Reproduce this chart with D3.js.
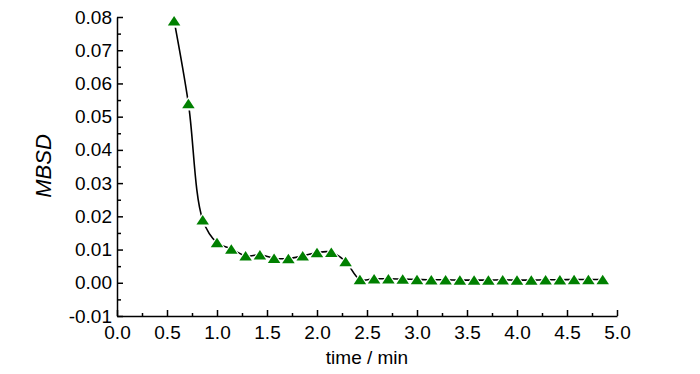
<!DOCTYPE html>
<html><head><meta charset="utf-8">
<script src="https://cdn.jsdelivr.net/npm/d3@7"></script>
<style>body{margin:0;background:#fff}svg{display:block}text{font-family:"Liberation Sans",Arial,sans-serif}</style>
</head><body>
<svg id="c" width="700" height="374"></svg>
<script>
const times = [0.571,0.714,0.857,1.0,1.143,1.286,1.429,1.571,1.714,1.857,2.0,2.143,2.286,2.429,2.571,2.714,2.857,3.0,3.143,3.286,3.429,3.571,3.714,3.857,4.0,4.143,4.286,4.429,4.571,4.714,4.857];
const mbsd = [0.0789,0.054,0.019,0.0121,0.0102,0.0081,0.0084,0.0074,0.0073,0.0081,0.0091,0.0092,0.0064,0.0010,0.0012,0.0012,0.0011,0.0010,0.0009,0.0009,0.0008,0.0008,0.0008,0.0009,0.0008,0.0008,0.0009,0.0009,0.0010,0.0010,0.0010];
const xTicks = [0,0.5,1,1.5,2,2.5,3,3.5,4,4.5,5];
const yTicks = [-0.01,0,0.01,0.02,0.03,0.04,0.05,0.06,0.07,0.08];

const svg = d3.select("#c");
const x = d3.scaleLinear().domain([0,5]).range([117,617]);
const y = d3.scaleLinear().domain([-0.01,0.08]).range([316,17]);
const pts = times.map((t,i)=>[t,mbsd[i]]);

// line
const line = d3.line().x(d=>x(d[0])).y(d=>y(d[1])).curve(d3.curveCatmullRom.alpha(0.5));
svg.append("path").attr("d",line(pts)).attr("fill","none").attr("stroke","#000").attr("stroke-width",1.6);

// triangle path (flattened), centered on the point
const triPath = (w,h)=>`M0,${-h/2}L${w/2},${h/2}L${-w/2},${h/2}Z`;
svg.append("g").selectAll("path").data(pts).join("path")
  .attr("d",triPath(18,14)).attr("transform",d=>`translate(${x(d[0])},${y(d[1])})`).attr("fill","#fff");
svg.append("g").selectAll("path").data(pts).join("path")
  .attr("d",triPath(12.5,9.5)).attr("transform",d=>`translate(${x(d[0])},${y(d[1])})`).attr("fill","#008000");

// axes
const ax = svg.append("g").attr("transform","translate(0,316)")
  .call(d3.axisBottom(x).tickValues(xTicks).tickFormat(d3.format(".1f")).tickSizeInner(-6).tickSizeOuter(0).tickPadding(10));
ax.append("g").call(d3.axisBottom(x).tickValues(d3.range(0.25,5,0.5)).tickFormat("").tickSizeInner(-3).tickSizeOuter(0)).select(".domain").remove();
const ay = svg.append("g").attr("transform","translate(117,0)")
  .call(d3.axisLeft(y).tickValues(yTicks).tickFormat(d=>d3.format(".2f")(d).replace("\u2212","-")).tickSizeInner(-6).tickSizeOuter(0).tickPadding(5));
ay.append("g").call(d3.axisLeft(y).tickValues(d3.range(-0.005,0.08,0.01)).tickFormat("").tickSizeInner(-4).tickSizeOuter(0)).select(".domain").remove();
svg.selectAll(".domain,.tick line").attr("stroke","#000").attr("stroke-width",1.5);
svg.selectAll(".tick text").attr("font-size",19).attr("fill","#000").attr("font-family","Liberation Sans, Arial, sans-serif");

svg.append("text").attr("x",367).attr("y",364).attr("text-anchor","middle").attr("font-size",19).text("time / min");
svg.append("text").attr("transform","translate(51,166) rotate(-90)").attr("text-anchor","middle").attr("font-size",22).attr("font-style","italic").text("MBSD");
</script>
</body></html>
